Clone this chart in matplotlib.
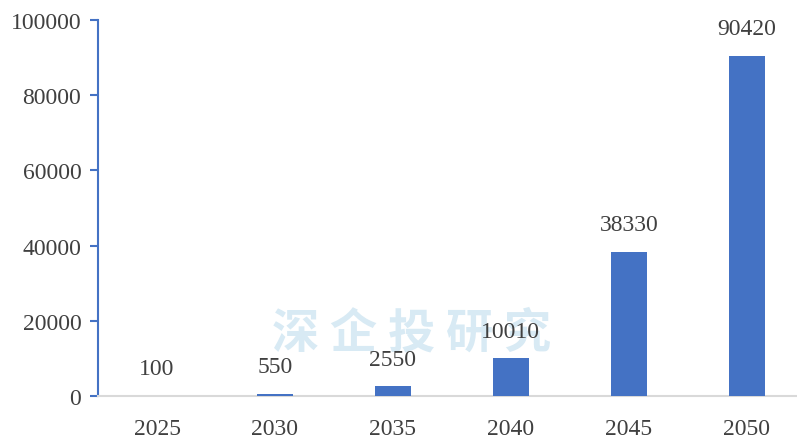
import matplotlib
matplotlib.use("Agg")
import matplotlib.pyplot as plt

years = ["2025", "2030", "2035", "2040", "2045", "2050"]
values = [100, 550, 2550, 10010, 38330, 90420]
yticks = [0, 20000, 40000, 60000, 80000, 100000]

bar_color = "#4472C4"
text_color = "#404040"
serif = ["Liberation Serif", "DejaVu Serif"]

fig = plt.figure(figsize=(7.97, 4.39), dpi=100)
# the plot area runs slightly past the right edge of the figure
ax = fig.add_axes([0.123, 0.0957, 0.888, 0.8563])

x = list(range(len(years)))
ax.bar(x, values, width=0.305, color=bar_color, zorder=3)

for xi, v in zip(x, values):
    ax.annotate(f"{v}", (xi, v), xytext=(0, 12), textcoords="offset points",
                ha="center", va="bottom", fontsize=17, family=serif,
                color=text_color, zorder=5)

ax.set_xlim(-0.5, len(years) - 0.5)
ax.set_ylim(0, 100000)
ax.set_xticks(x)
ax.set_xticklabels(years, family=serif, fontsize=17, color=text_color)
ax.set_yticks(yticks)
ax.set_yticklabels([str(t) for t in yticks], family=serif, fontsize=17,
                   color=text_color)

ax.tick_params(axis="x", length=0, pad=16)
ax.tick_params(axis="y", length=6, width=1.5, color=bar_color, pad=6)

for side in ("top", "right"):
    ax.spines[side].set_visible(False)
ax.spines["left"].set_color(bar_color)
ax.spines["left"].set_linewidth(1.5)
ax.spines["bottom"].set_color("#d9d9d9")
ax.spines["bottom"].set_linewidth(1.5)

# faint watermark text, kept beneath the bars and value labels
ax.text(0.517, 0.241, "深 企 投 研 究", transform=fig.transFigure,
        fontsize=34, fontweight="bold", style="italic",
        family=["Noto Sans CJK SC", "DejaVu Sans"],
        color="#d8eaf4", ha="center", va="center", zorder=1)

fig.savefig("out.png", dpi=100)
